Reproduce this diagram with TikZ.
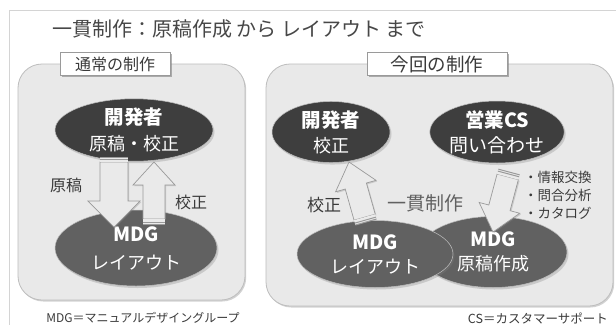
\documentclass[tikz,border=0pt]{standalone}
\usepackage{fontspec}
\setmainfont{Noto Sans CJK JP}
\usetikzlibrary{calc,shadows,shapes.geometric}
\definecolor{panelfill}{HTML}{E9E9E9}
\definecolor{panelline}{HTML}{BDBDBD}
\definecolor{darkell}{HTML}{3E3E3E}
\definecolor{midell}{HTML}{616161}
\definecolor{arrfill}{HTML}{EAEAEA}
\definecolor{arrline}{HTML}{9A9A9A}
\definecolor{txtgray}{HTML}{3A3A3A}
\definecolor{framegray}{HTML}{D4D4D4}
\tikzset{
  panel/.style={fill=panelfill, draw=panelline, line width=0.8pt, rounded corners=24pt,
    drop shadow={opacity=0.35, shadow xshift=1.2pt, shadow yshift=-1.5pt}},
  tagbox/.style={rectangle, fill=white, draw=arrline, line width=0.7pt, inner sep=0pt,
    minimum height=23pt, text=txtgray,
    drop shadow={opacity=0.6, shadow xshift=1.5pt, shadow yshift=-1.5pt}},
  ellbase/.style={ellipse, inner sep=0pt, text=white, align=center, draw=white!75!black, line width=0.5pt,
    drop shadow={opacity=0.3, shadow xshift=1.5pt, shadow yshift=-2pt}},
  darkellipse/.style={ellbase, fill=darkell},
  midellipse/.style={ellbase, fill=midell},
  arrowbody/.style={fill=arrfill, draw=arrline, line width=0.7pt, line join=miter,
    drop shadow={opacity=0.3, shadow xshift=1.2pt, shadow yshift=-1.2pt}},
  stripe/.style={draw=arrline, line width=1pt},
  lbl/.style={inner sep=0pt, text=txtgray},
}
% #1 tail, #2 tip, #3 shaft half width, #4 head half width, #5 head length, #6 prefix
\newcommand{\fatarr}[6]{%
  \coordinate (#6H) at ($(#2)!#5!(#1)$);
  \coordinate (#6S) at ($(#1)!5pt!(#2)$);
  \coordinate (#6R) at ($(#1)!2pt!(#2)$);
  \path[arrowbody] ($(#6S)!#3!90:(#2)$) -- ($(#6H)!#3!90:(#2)$) -- ($(#6H)!#4!90:(#2)$)
     -- (#2) -- ($(#6H)!#4!-90:(#2)$) -- ($(#6H)!#3!-90:(#2)$) -- ($(#6S)!#3!-90:(#2)$) -- cycle;
  \fill[arrfill] ($(#1)!#3!90:(#2)$) -- ($(#6S)!#3!90:(#2)$) -- ($(#6S)!#3!-90:(#2)$) -- ($(#1)!#3!-90:(#2)$) -- cycle;
  \draw[stripe] ($(#1)!#3!90:(#2)$) -- ($(#1)!#3!-90:(#2)$);
  \draw[stripe] ($(#6R)!#3!90:(#2)$) -- ($(#6R)!#3!-90:(#2)$);
}
\newcommand{\bl}[1]{{\fontsize{19.5}{26}\selectfont\bfseries #1}}
\begin{document}
\begin{tikzpicture}[x=1pt,y=-1pt]
\useasboundingbox (0,0) rectangle (616,325);
\fill[white] (0,0) rectangle (616,325);
\draw[framegray, line width=0.8pt] (616,10) -- (9,10) -- (9,325);

% title
\node[lbl, text=black!72] (title) at (239,29) {\fontsize{20}{24}\selectfont 一貫制作：原稿作成 から レイアウト まで};

% panels
\draw[panel] (18,64) rectangle (245,300);
\draw[panel] (266,64) rectangle (613,306);

\node[tagbox, minimum width=110pt] (tagL) at (115,64) {\fontsize{16}{18}\selectfont 通常の制作};
\node[tagbox, minimum width=140pt] (tagR) at (437,64) {\fontsize{18.5}{20}\selectfont 今回の制作};

% left ellipses
\node[darkellipse, minimum width=158pt, minimum height=60pt, font=\fontsize{18}{26}\selectfont] (devL) at (134,130)
  {\bl{開発者}\\原稿・校正};
\node[midellipse, minimum width=162pt, minimum height=76pt, font=\fontsize{18}{28}\selectfont] (mdgL) at (136,248)
  {\bl{MDG}\\レイアウト};

% left arrows
\coordinate (dAt) at (114,157);
\coordinate (dAh) at (114,227);
\fatarr{dAt}{dAh}{14pt}{26pt}{26pt}{dA}
\coordinate (uAt) at (154,224);
\coordinate (uAh) at (154,162);
\fatarr{uAt}{uAh}{11pt}{21pt}{23pt}{uA}

\node[lbl] (genkoL) at (66,185) {\fontsize{16}{18}\selectfont 原稿};
\node[lbl] (koseiL) at (191,202) {\fontsize{16}{18}\selectfont 校正};

% right ellipses
\node[darkellipse, minimum width=118pt, minimum height=61pt, font=\fontsize{18}{25}\selectfont] (devR) at (331,132)
  {\bl{開発者}\\校正};
\node[darkellipse, minimum width=114pt, minimum height=62pt, font=\fontsize{19}{25}\selectfont] (salesR) at (497,132)
  {\bl{営業CS}\\問い合わせ};
\node[midellipse, minimum width=148pt, minimum height=71pt, font=\fontsize{18}{24}\selectfont] (mdgW) at (493,252)
  {\bl{MDG}\\原稿作成};
\node[midellipse, minimum width=156pt, minimum height=67pt, font=\fontsize{18}{24}\selectfont] (mdgR) at (375,254)
  {\bl{MDG}\\レイアウト};

% right arrows
\coordinate (uBt) at (366,222);
\coordinate (uBh) at (349,162);
\fatarr{uBt}{uBh}{11pt}{21pt}{25pt}{uB}
\coordinate (dBt) at (509,172);
\coordinate (dBh) at (493,232);
\fatarr{dBt}{dBh}{11pt}{21pt}{25pt}{dB}

\node[lbl] (koseiR) at (324,205) {\fontsize{17}{19}\selectfont 校正};
\node[lbl, text=black!62] (ikkan) at (425,203) {\fontsize{19}{21}\selectfont 一貫制作};
\node[lbl, anchor=west, align=left, font=\fontsize{13.5}{18}\selectfont] (bullets) at (524,195)
  {・情報交換\\・問合分析\\・カタログ};

% captions
\node[lbl] (capL) at (143,318) {\fontsize{12}{14}\selectfont MDG＝マニュアルデザイングループ};
\node[lbl, anchor=east] (capR) at (608,318) {\fontsize{12.5}{14}\selectfont CS＝カスタマーサポート};
\end{tikzpicture}
\end{document}
